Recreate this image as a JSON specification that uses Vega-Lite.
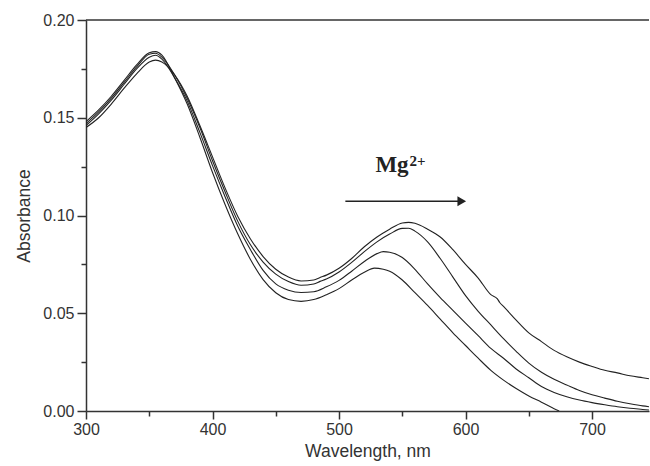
{
  "$schema": "https://vega.github.io/schema/vega-lite/v6.json",
  "width": 563,
  "height": 391,
  "autosize": "none",
  "padding": {"left": 86, "top": 20, "right": 1, "bottom": 55},
  "background": "white",
  "config": {
    "view": {"stroke": null},
    "axis": {
      "grid": false,
      "domainColor": "#333",
      "domainWidth": 1.5,
      "tickColor": "#333",
      "tickWidth": 1.5,
      "labelFont": "Liberation Sans",
      "titleFont": "Liberation Sans",
      "labelColor": "#333",
      "titleColor": "#333",
      "labelFontSize": 16,
      "titleFontSize": 17.5,
      "titleFontWeight": "normal",
      "labelOverlap": false,
      "labelFlush": false
    }
  },
  "datasets": {
    "spectra": [
      {"s":"A","w":300,"a":0.145},{"s":"A","w":310,"a":0.150},{"s":"A","w":320,"a":0.157},{"s":"A","w":330,"a":0.165},{"s":"A","w":340,"a":0.1725},{"s":"A","w":350,"a":0.1785},{"s":"A","w":355,"a":0.1795},{"s":"A","w":360,"a":0.1785},{"s":"A","w":370,"a":0.172},{"s":"A","w":380,"a":0.161},{"s":"A","w":390,"a":0.146},{"s":"A","w":400,"a":0.130},{"s":"A","w":410,"a":0.114},{"s":"A","w":420,"a":0.0995},{"s":"A","w":430,"a":0.088},{"s":"A","w":440,"a":0.079},{"s":"A","w":450,"a":0.0725},{"s":"A","w":460,"a":0.0685},{"s":"A","w":470,"a":0.0665},{"s":"A","w":480,"a":0.067},{"s":"A","w":485,"a":0.0683},{"s":"A","w":490,"a":0.0695},{"s":"A","w":500,"a":0.073},{"s":"A","w":510,"a":0.078},{"s":"A","w":520,"a":0.084},{"s":"A","w":530,"a":0.089},{"s":"A","w":540,"a":0.093},{"s":"A","w":550,"a":0.0962},{"s":"A","w":555,"a":0.0965},{"s":"A","w":560,"a":0.096},{"s":"A","w":570,"a":0.093},{"s":"A","w":580,"a":0.089},{"s":"A","w":590,"a":0.0825},{"s":"A","w":600,"a":0.075},{"s":"A","w":610,"a":0.068},{"s":"A","w":620,"a":0.0595},{"s":"A","w":625,"a":0.0575},{"s":"A","w":627,"a":0.0555},{"s":"A","w":630,"a":0.0535},{"s":"A","w":640,"a":0.0465},{"s":"A","w":650,"a":0.040},{"s":"A","w":660,"a":0.0355},{"s":"A","w":670,"a":0.031},{"s":"A","w":680,"a":0.0277},{"s":"A","w":690,"a":0.025},{"s":"A","w":700,"a":0.0228},{"s":"A","w":710,"a":0.0208},{"s":"A","w":720,"a":0.0195},{"s":"A","w":730,"a":0.018},{"s":"A","w":740,"a":0.017},{"s":"A","w":745,"a":0.0165},
      {"s":"B","w":300,"a":0.147},{"s":"B","w":310,"a":0.153},{"s":"B","w":320,"a":0.160},{"s":"B","w":330,"a":0.168},{"s":"B","w":340,"a":0.176},{"s":"B","w":350,"a":0.1825},{"s":"B","w":355,"a":0.183},{"s":"B","w":360,"a":0.181},{"s":"B","w":370,"a":0.172},{"s":"B","w":380,"a":0.160},{"s":"B","w":390,"a":0.145},{"s":"B","w":400,"a":0.128},{"s":"B","w":410,"a":0.112},{"s":"B","w":420,"a":0.097},{"s":"B","w":430,"a":0.085},{"s":"B","w":440,"a":0.0762},{"s":"B","w":450,"a":0.070},{"s":"B","w":460,"a":0.0662},{"s":"B","w":470,"a":0.0643},{"s":"B","w":480,"a":0.065},{"s":"B","w":485,"a":0.0663},{"s":"B","w":490,"a":0.0675},{"s":"B","w":500,"a":0.0711},{"s":"B","w":510,"a":0.076},{"s":"B","w":520,"a":0.0815},{"s":"B","w":530,"a":0.0865},{"s":"B","w":540,"a":0.0905},{"s":"B","w":550,"a":0.0934},{"s":"B","w":555,"a":0.0935},{"s":"B","w":560,"a":0.092},{"s":"B","w":570,"a":0.0865},{"s":"B","w":580,"a":0.078},{"s":"B","w":590,"a":0.0685},{"s":"B","w":600,"a":0.059},{"s":"B","w":610,"a":0.051},{"s":"B","w":620,"a":0.044},{"s":"B","w":630,"a":0.037},{"s":"B","w":640,"a":0.0305},{"s":"B","w":650,"a":0.0245},{"s":"B","w":660,"a":0.0198},{"s":"B","w":670,"a":0.0162},{"s":"B","w":680,"a":0.0133},{"s":"B","w":690,"a":0.0105},{"s":"B","w":700,"a":0.0083},{"s":"B","w":710,"a":0.0066},{"s":"B","w":720,"a":0.005},{"s":"B","w":730,"a":0.0037},{"s":"B","w":740,"a":0.0026},{"s":"B","w":745,"a":0.0022},
      {"s":"C","w":300,"a":0.146},{"s":"C","w":310,"a":0.152},{"s":"C","w":320,"a":0.159},{"s":"C","w":330,"a":0.167},{"s":"C","w":340,"a":0.175},{"s":"C","w":350,"a":0.181},{"s":"C","w":355,"a":0.182},{"s":"C","w":360,"a":0.180},{"s":"C","w":370,"a":0.1705},{"s":"C","w":380,"a":0.1585},{"s":"C","w":390,"a":0.1425},{"s":"C","w":400,"a":0.1255},{"s":"C","w":410,"a":0.1095},{"s":"C","w":420,"a":0.0945},{"s":"C","w":430,"a":0.0825},{"s":"C","w":440,"a":0.0719},{"s":"C","w":450,"a":0.065},{"s":"C","w":460,"a":0.0618},{"s":"C","w":470,"a":0.0606},{"s":"C","w":480,"a":0.061},{"s":"C","w":490,"a":0.0635},{"s":"C","w":500,"a":0.0668},{"s":"C","w":510,"a":0.0715},{"s":"C","w":520,"a":0.0765},{"s":"C","w":530,"a":0.0805},{"s":"C","w":535,"a":0.0815},{"s":"C","w":540,"a":0.0812},{"s":"C","w":550,"a":0.0785},{"s":"C","w":560,"a":0.0725},{"s":"C","w":570,"a":0.065},{"s":"C","w":580,"a":0.058},{"s":"C","w":590,"a":0.0515},{"s":"C","w":600,"a":0.045},{"s":"C","w":610,"a":0.0385},{"s":"C","w":620,"a":0.032},{"s":"C","w":630,"a":0.027},{"s":"C","w":640,"a":0.0215},{"s":"C","w":650,"a":0.017},{"s":"C","w":660,"a":0.0125},{"s":"C","w":670,"a":0.0095},{"s":"C","w":680,"a":0.0073},{"s":"C","w":690,"a":0.0056},{"s":"C","w":700,"a":0.0043},{"s":"C","w":710,"a":0.0032},{"s":"C","w":720,"a":0.0022},{"s":"C","w":730,"a":0.0014},{"s":"C","w":740,"a":0.0008},{"s":"C","w":745,"a":0.0005},
      {"s":"D","w":300,"a":0.148},{"s":"D","w":310,"a":0.154},{"s":"D","w":320,"a":0.161},{"s":"D","w":330,"a":0.169},{"s":"D","w":340,"a":0.177},{"s":"D","w":350,"a":0.1832},{"s":"D","w":355,"a":0.1838},{"s":"D","w":360,"a":0.182},{"s":"D","w":370,"a":0.1705},{"s":"D","w":380,"a":0.157},{"s":"D","w":390,"a":0.140},{"s":"D","w":400,"a":0.122},{"s":"D","w":410,"a":0.1055},{"s":"D","w":420,"a":0.0905},{"s":"D","w":430,"a":0.0775},{"s":"D","w":440,"a":0.0672},{"s":"D","w":450,"a":0.0605},{"s":"D","w":460,"a":0.057},{"s":"D","w":470,"a":0.0561},{"s":"D","w":480,"a":0.057},{"s":"D","w":490,"a":0.0595},{"s":"D","w":500,"a":0.0626},{"s":"D","w":510,"a":0.067},{"s":"D","w":520,"a":0.071},{"s":"D","w":528,"a":0.0731},{"s":"D","w":535,"a":0.0725},{"s":"D","w":540,"a":0.0715},{"s":"D","w":550,"a":0.067},{"s":"D","w":560,"a":0.0605},{"s":"D","w":570,"a":0.054},{"s":"D","w":580,"a":0.047},{"s":"D","w":590,"a":0.040},{"s":"D","w":600,"a":0.0335},{"s":"D","w":610,"a":0.027},{"s":"D","w":620,"a":0.0208},{"s":"D","w":630,"a":0.0158},{"s":"D","w":640,"a":0.0115},{"s":"D","w":650,"a":0.0077},{"s":"D","w":660,"a":0.0045},{"s":"D","w":670,"a":0.0012},{"s":"D","w":674,"a":0.0}
    ],
    "arrow": [{"w1": 505, "w2": 595, "a": 0.1073, "head": 597}],
    "label": [{"w": 555, "a": 0.1224, "main": "Mg", "sup": "2+"}],
    "frame": [{"a": 0.2}]
  },
  "layer": [
    {
      "data": {"name": "spectra"},
      "mark": {"type": "line", "color": "#222", "strokeWidth": 1.1, "interpolate": "monotone", "clip": true},
      "encoding": {
        "x": {
          "field": "w", "type": "quantitative",
          "scale": {"domain": [300, 745], "nice": false, "zero": false},
          "axis": {
            "title": "Wavelength, nm",
            "values": [300, 350, 400, 450, 500, 550, 600, 650, 700],
            "labelExpr": "datum.value % 100 == 0 ? datum.value : ''",
            "tickSize": {"condition": {"test": "datum.value % 100 == 0", "value": 8}, "value": 5},
            "labelPadding": 2,
            "titlePadding": 5
          }
        },
        "y": {
          "field": "a", "type": "quantitative",
          "scale": {"domain": [0, 0.2], "nice": false},
          "axis": {
            "title": "Absorbance",
            "values": [0, 0.025, 0.05, 0.075, 0.1, 0.125, 0.15, 0.175, 0.2],
            "labelExpr": "round(datum.value * 1000) % 50 == 0 ? format(datum.value, '.2f') : ''",
            "tickSize": {"condition": {"test": "round(datum.value * 1000) % 50 == 0", "value": 9}, "value": 5},
            "labelPadding": 3,
            "titlePadding": 9
          }
        },
        "detail": {"field": "s", "type": "nominal"}
      }
    },
    {
      "data": {"name": "frame"},
      "mark": {"type": "rule", "color": "#333", "strokeWidth": 1.5},
      "encoding": {"y": {"field": "a", "type": "quantitative"}}
    },
    {
      "data": {"name": "arrow"},
      "mark": {"type": "rule", "color": "#222", "strokeWidth": 1.3},
      "encoding": {
        "x": {"field": "w1", "type": "quantitative"},
        "x2": {"field": "w2"},
        "y": {"field": "a", "type": "quantitative"}
      }
    },
    {
      "data": {"name": "arrow"},
      "mark": {"type": "point", "shape": "triangle-right", "filled": true, "color": "#222", "size": 100, "opacity": 1},
      "encoding": {
        "x": {"field": "head", "type": "quantitative"},
        "y": {"field": "a", "type": "quantitative"}
      }
    },
    {
      "data": {"name": "label"},
      "mark": {"type": "text", "font": "Liberation Serif", "fontWeight": "bold", "fontSize": 23, "align": "right", "baseline": "alphabetic", "color": "#222"},
      "encoding": {
        "x": {"field": "w", "type": "quantitative"},
        "y": {"field": "a", "type": "quantitative"},
        "text": {"field": "main"}
      }
    },
    {
      "data": {"name": "label"},
      "mark": {"type": "text", "font": "Liberation Serif", "fontWeight": "bold", "fontSize": 15, "align": "left", "baseline": "alphabetic", "dy": -6, "dx": 1, "color": "#222"},
      "encoding": {
        "x": {"field": "w", "type": "quantitative"},
        "y": {"field": "a", "type": "quantitative"},
        "text": {"field": "sup"}
      }
    }
  ]
}
